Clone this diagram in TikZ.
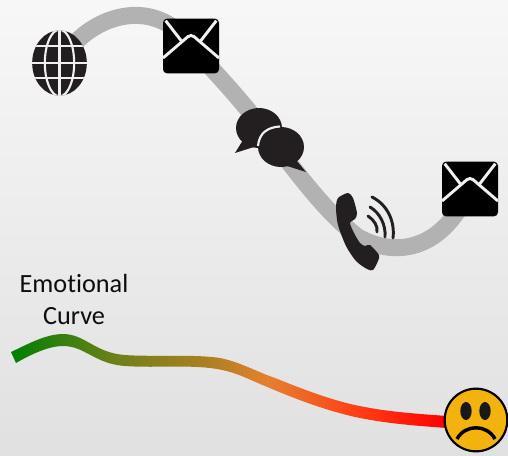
\documentclass[tikz,border=0pt]{standalone}
\usepackage{fontspec}
\setmainfont[Ligatures=NoCommon]{Carlito}
\usetikzlibrary{shapes.geometric, positioning, calc}
\definecolor{TrackGray}{RGB}{178, 178, 178}
\definecolor{IconDark}{RGB}{35, 31, 32}
\definecolor{HaloGray}{RGB}{240, 240, 240}
\definecolor{FaceYellow}{RGB}{244, 178, 15}
\pgfdeclarehorizontalshading{emotionshade}{100bp}{rgb(0bp)=(0,0.5,0); rgb(25bp)=(0,0.5,0); rgb(37bp)=(0.43,0.5,0.1); rgb(48bp)=(0.69,0.5,0.13); rgb(54.4bp)=(0.9,0.5,0.19); rgb(65bp)=(1,0.24,0.08); rgb(75bp)=(1,0,0); rgb(100bp)=(1,0,0)}

\begin{document}
\begin{tikzpicture}[
            x=0.75pt, y=-0.75pt,
            track/.style={draw=TrackGray, line width=12.75pt},
            mailicon/.style={fill=black, draw=none, rounded corners=3pt, minimum width=42pt, minimum height=41pt, inner sep=0pt,
                path picture={
                    \draw[HaloGray, line width=2.2pt, rounded corners=3pt] ([shift={(-21pt,-9pt)}]path picture bounding box.center) -- ([shift={(0pt,9pt)}]path picture bounding box.center) -- ([shift={(21pt,-9pt)}]path picture bounding box.center);
                    \draw[HaloGray, line width=2.2pt] ([shift={(-7pt,3.5pt)}]path picture bounding box.center) -- ([shift={(-19pt,19pt)}]path picture bounding box.center);
                    \draw[HaloGray, line width=2.2pt] ([shift={(7pt,3.5pt)}]path picture bounding box.center) -- ([shift={(19pt,19pt)}]path picture bounding box.center);
                }},
            globeicon/.style={ellipse, fill=IconDark, draw=none, minimum width=41pt, minimum height=49pt, inner sep=0pt,
                path picture={
                    \draw[HaloGray, line width=1.6pt] ([shift={(0pt,-25pt)}]path picture bounding box.center) -- ([shift={(0pt,25pt)}]path picture bounding box.center);
                    \draw[HaloGray, line width=1.6pt] (path picture bounding box.center) ellipse (11pt and 25pt);
                    \foreach \yy in {-11.5,0,12.5}
                        \draw[HaloGray, line width=1.6pt] ([shift={(-21pt,\yy pt)}]path picture bounding box.center) -- ([shift={(21pt,\yy pt)}]path picture bounding box.center);
                }},
            bubble/.style={ellipse, fill=IconDark, draw=none, minimum width=34.5pt, minimum height=30pt, inner sep=0pt},
            facenode/.style={circle, fill=FaceYellow, draw=black, line width=1.6pt, minimum size=47pt, inner sep=0pt},
            eyenode/.style={ellipse, fill=black!90, draw=none, minimum width=8.5pt, minimum height=13.5pt, inner sep=0pt},
            wave/.style={draw=IconDark, line width=2.2pt, line cap=round}
        ]

        % Background
        \shade[top color=white!97!black, bottom color=white!88!black] (0,0) rectangle (508,455);
        \useasboundingbox (0,0) rectangle (508,455);

        % The icons
        \coordinate (web) at (59.5,63);
        \coordinate (mailA) at (191,46);
        \coordinate (talk) at (270,138);
        \coordinate (call) at (358,237);
        \coordinate (mailB) at (470,189);

        % The track
        \draw[track] (web) .. controls (88,14) and (155,-6) .. (mailA) .. controls (215,72) and (245,104) .. (talk) .. controls (295,170) and (325,212) .. (call) .. controls (392,256) and (440,255) .. (mailB);

        \node[globeicon] (globe) at (web) {};
        \node[mailicon] (mail1) at (mailA) {};
        \node[mailicon] (mail2) at (mailB) {};

        % The bubbles
        \node[bubble] (bubble1) at (259,128) {};
        \fill[IconDark] (243,140) -- (235,153) -- (257,146) -- cycle;
        \node[bubble] (bubble2) at (281,147) {};
        \fill[IconDark] (296,160) -- (306,172) -- (284,165) -- cycle;
        \draw[HaloGray, line width=1.6pt] (280,126.5) .. controls (268,127) and (259,133) .. (258,146);

        % The phone
        \fill[IconDark] plot[smooth cycle, tension=0.45] coordinates {(338,198) (348,193) (353,198) (357,213) (355,219) (350,223) (354,233) (360,243) (365,246) (370,245) (379,255) (378,261) (373,270) (367,269) (356,261) (346,246) (338,225) (336,208)};
        \draw[wave] (372,197) .. controls (388,205) and (395,222) .. (393,238);
        \draw[wave] (370,207) .. controls (380,213) and (386,225) .. (385,237);
        \draw[wave] (368,216) .. controls (374,220) and (378,226) .. (377,232);

        % The emotional curve
        \shade[shading=emotionshade] (11,352) .. controls (28,344) and (46,334) .. (63,334) .. controls (85,334) and (95,353) .. (125,355) .. controls (150,357) and (195,354) .. (220,358) .. controls (240,362) and (255,371) .. (275,378) .. controls (300,388) and (335,402) .. (365,407) .. controls (390,412) and (420,414) .. (447,416) -- (447,428) .. controls (420,426) and (390,424) .. (360,418) .. controls (330,412) and (295,399) .. (265,386) .. controls (245,378) and (235,371) .. (210,368) .. controls (185,365) and (150,368) .. (125,366) .. controls (95,364) and (85,346) .. (63,346) .. controls (48,346) and (30,355) .. (16,363) -- cycle;

        \node[font=\fontsize{19.7}{24}\selectfont, align=center, text=black!95] (label) at (74,299) {Emotional\\Curve};

        % The face
        \node[facenode] (face) at (476,420) {};
        \node[eyenode] (eye1) at (466,411) {};
        \node[eyenode] (eye2) at (485,411) {};
        \draw[black, line width=2.6pt] (457,439) .. controls (465,424) and (487,424) .. (495,439);

        \end{tikzpicture}
\end{document}
